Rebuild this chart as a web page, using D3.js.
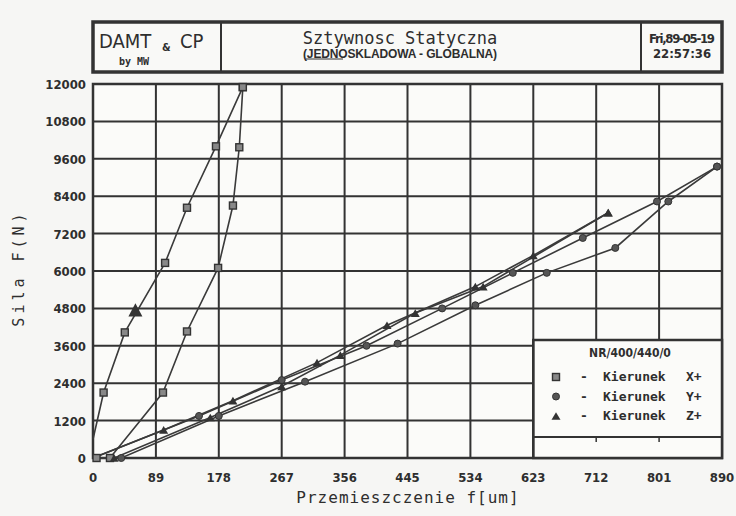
<!DOCTYPE html>
<html>
<head>
<meta charset="utf-8">
<script src="https://cdn.jsdelivr.net/npm/d3@7"></script>
<style>
  body { margin: 0; background: #f6f6f4; }
  svg { display: block; }
  .tick-label { font-family: "Liberation Sans Narrow", "DejaVu Sans Condensed", sans-serif; font-weight: bold; font-size: 13px; fill: #2e2e2e; }
  .mono { font-family: "DejaVu Sans Mono", monospace; fill: #2e2e2e; }
</style>
</head>
<body>
<div id="chart"></div>
<script>
// axis ticks
const xTicks = [0, 89, 178, 267, 356, 445, 534, 623, 712, 801, 890];
const yTicks = [0, 1200, 2400, 3600, 4800, 6000, 7200, 8400, 9600, 10800, 12000];

// curves: [displacement um, force N]
const xLoad   = [[5, 0], [24, 0], [99, 2100], [133, 4060], [177, 6100], [198, 8100], [207, 9970], [212, 11900]];
const xUnload = [[212, 11900], [174, 10000], [133, 8030], [102, 6260], [45, 4030], [15, 2100], [0, 600]];
const yLoad   = [[0, 0], [40, 0], [178, 1350], [300, 2450], [431, 3670], [541, 4900], [642, 5940], [739, 6740], [814, 8230], [883, 9350]];
const yUnload = [[883, 9350], [798, 8230], [693, 7060], [594, 5940], [494, 4800], [387, 3600], [267, 2500], [150, 1350], [0, 0]];
const zLoad   = [[0, 0], [30, 0], [166, 1300], [267, 2300], [350, 3300], [456, 4650], [552, 5500], [729, 7870]];
const zUnload = [[729, 7870], [623, 6500], [541, 5500], [416, 4260], [317, 3060], [198, 1840], [100, 900], [0, 0]];
const zStray  = [[60, 4750]];

const legendTitle = "NR/400/440/0";
const legendRows = [
  { sym: "square", label: "Kierunek", dir: "X+" },
  { sym: "circle", label: "Kierunek", dir: "Y+" },
  { sym: "triangle", label: "Kierunek", dir: "Z+" }
];

const W = 736, H = 516;
const ink = "#333";
const plot = { left: 93, right: 722, top: 84, bottom: 458 };

const svg = d3.select("#chart").append("svg")
  .attr("width", W).attr("height", H);

const x = d3.scaleLinear().domain([0, 890]).range([plot.left, plot.right]);
const y = d3.scaleLinear().domain([0, 12000]).range([plot.bottom, plot.top]);

// header box
const hdr = svg.append("g");
hdr.append("rect").attr("x", 93).attr("y", 22).attr("width", 629).attr("height", 50)
  .attr("fill", "#f9f9f7").attr("stroke", ink).attr("stroke-width", 3.5);
hdr.append("line").attr("x1", 221).attr("x2", 221).attr("y1", 22).attr("y2", 72)
  .attr("stroke", ink).attr("stroke-width", 2);
hdr.append("line").attr("x1", 641).attr("x2", 641).attr("y1", 22).attr("y2", 72)
  .attr("stroke", ink).attr("stroke-width", 2);

hdr.append("text").attr("x", 99).attr("y", 48)
  .style("font-family", "'DejaVu Sans Condensed', sans-serif").style("fill", "#2e2e2e")
  .style("font-size", "20px").text("DAMT");
hdr.append("text").attr("x", 162).attr("y", 51)
  .style("font-family", "'DejaVu Sans Condensed', sans-serif").style("fill", "#2e2e2e")
  .style("font-size", "11px").style("font-weight", "bold").text("&");
hdr.append("text").attr("x", 180).attr("y", 48)
  .style("font-family", "'DejaVu Sans Condensed', sans-serif").style("fill", "#2e2e2e")
  .style("font-size", "20px").text("CP");
hdr.append("text").attr("class", "mono").attr("x", 134).attr("y", 65)
  .attr("text-anchor", "middle").style("font-size", "10px").style("font-weight", "bold").text("by MW");

hdr.append("text").attr("class", "mono").attr("x", 400).attr("y", 44)
  .attr("text-anchor", "middle").style("font-size", "17px").text("Sztywnosc Statyczna");
hdr.append("text").attr("x", 400).attr("y", 58)
  .attr("text-anchor", "middle").attr("textLength", 194)
  .style("font-family", "'Liberation Sans Narrow', sans-serif").style("font-weight", "bold")
  .style("font-size", "12px").style("fill", "#2e2e2e")
  .text("(JEDNOSKLADOWA - GLOBALNA)");
hdr.append("line").attr("x1", 306).attr("x2", 343).attr("y1", 59).attr("y2", 59)
  .attr("stroke", ink).attr("stroke-width", 1.2);

hdr.append("text").attr("class", "tick-label").attr("x", 682).attr("y", 43)
  .attr("text-anchor", "middle").attr("textLength", 66).style("font-size", "13px").text("Fri,89-05-19");
hdr.append("text").attr("class", "tick-label").attr("x", 682).attr("y", 58)
  .attr("text-anchor", "middle").style("font-size", "13px").text("22:57:36");

// plot frame + grid
const grid = svg.append("g");
grid.append("rect").attr("x", plot.left).attr("y", plot.top)
  .attr("width", plot.right - plot.left).attr("height", plot.bottom - plot.top)
  .attr("fill", "#fbfbf9").attr("stroke", ink).attr("stroke-width", 2.5);

grid.selectAll(".vg").data(xTicks.slice(1, -1)).join("line")
  .attr("x1", d => x(d)).attr("x2", d => x(d))
  .attr("y1", plot.top).attr("y2", plot.bottom)
  .attr("stroke", ink).attr("stroke-width", 2);
grid.selectAll(".hg").data(yTicks.slice(1, -1)).join("line")
  .attr("x1", plot.left).attr("x2", plot.right)
  .attr("y1", d => y(d)).attr("y2", d => y(d))
  .attr("stroke", ink).attr("stroke-width", 2);

// tick labels
svg.selectAll(".xl").data(xTicks).join("text")
  .attr("class", "tick-label")
  .attr("x", d => x(d)).attr("y", 482)
  .attr("text-anchor", "middle").text(d => d);
svg.selectAll(".yl").data(yTicks).join("text")
  .attr("class", "tick-label")
  .attr("x", 86).attr("y", d => y(d) + 5)
  .attr("text-anchor", "end").text(d => d);

// axis titles
svg.append("text").attr("class", "mono")
  .attr("x", 408).attr("y", 503).attr("text-anchor", "middle")
  .style("font-size", "16px").style("letter-spacing", "1px").text("Przemieszczenie  f[um]");
svg.append("text").attr("class", "mono")
  .attr("transform", "translate(24,268) rotate(-90)")
  .attr("text-anchor", "middle").style("font-size", "15px").style("letter-spacing", "4px")
  .text("Sila  F(N)");

// curves
const line = d3.line().x(d => x(d[0])).y(d => y(d[1]));
const curves = [
  { pts: xLoad, sym: "square" }, { pts: xUnload, sym: "square", skipLast: true },
  { pts: yLoad, sym: "circle", skipFirst: true }, { pts: yUnload, sym: "circle", skipLast: true },
  { pts: zLoad, sym: "triangle", skipFirst: true }, { pts: zUnload, sym: "triangle", skipLast: true }
];

const lines = svg.append("g");
curves.forEach(c => {
  lines.append("path").attr("d", line(c.pts))
    .attr("fill", "none").attr("stroke", "#3a3a3a").attr("stroke-width", 1.6);
});

function marker(g, sym, cx, cy, s) {
  if (sym === "square") {
    g.append("rect").attr("x", cx - s / 2).attr("y", cy - s / 2).attr("width", s).attr("height", s)
      .attr("fill", "#888").attr("stroke", "#333").attr("stroke-width", 1.4);
  } else if (sym === "circle") {
    g.append("circle").attr("cx", cx).attr("cy", cy).attr("r", s / 2)
      .attr("fill", "#555").attr("stroke", "#333").attr("stroke-width", 1);
  } else {
    const h = s * 1.1;
    g.append("path")
      .attr("d", `M${cx},${cy - h / 2}L${cx + s / 2 + 1},${cy + h / 2}L${cx - s / 2 - 1},${cy + h / 2}Z`)
      .attr("fill", "#333");
  }
}

const marks = svg.append("g");
curves.forEach(c => {
  c.pts.forEach((p, i) => {
    if (c.skipFirst && i === 0) return;
    if (c.skipLast && i === c.pts.length - 1) return;
    marker(marks, c.sym, x(p[0]), y(p[1]), 7);
  });
});
zStray.forEach(p => marker(marks, "triangle", x(p[0]), y(p[1]), 12));

// legend
const lg = svg.append("g");
const lx = x(623), ly = 340, lb = 437;
lg.append("rect").attr("x", lx).attr("y", ly).attr("width", plot.right - lx).attr("height", plot.bottom - ly)
  .attr("fill", "#fbfbf9").attr("stroke", ink).attr("stroke-width", 2);
lg.append("line").attr("x1", lx).attr("x2", plot.right).attr("y1", lb).attr("y2", lb)
  .attr("stroke", ink).attr("stroke-width", 2);
lg.selectAll(".lt").data([712, 801]).join("line")
  .attr("x1", d => x(d)).attr("x2", d => x(d)).attr("y1", lb).attr("y2", lb + 5)
  .attr("stroke", ink).attr("stroke-width", 1.5);
lg.append("rect").attr("x", lx).attr("y", ly).attr("width", plot.right - lx).attr("height", plot.bottom - ly)
  .attr("fill", "none").attr("stroke", ink).attr("stroke-width", 2.5);

lg.append("text").attr("x", 630).attr("y", 357).attr("text-anchor", "middle")
  .attr("class", "tick-label").style("font-size", "12px").text(legendTitle);
legendRows.forEach((r, i) => {
  const ry = 381 + i * 19.5;
  marker(lg, r.sym, 556, ry - 4, 7);
  lg.append("text").attr("class", "mono").attr("x", 580).attr("y", ry)
    .style("font-size", "13px").style("font-weight", "bold").text("-");
  lg.append("text").attr("class", "mono").attr("x", 603).attr("y", ry)
    .style("font-size", "13px").style("font-weight", "bold").text(r.label);
  lg.append("text").attr("class", "mono").attr("x", 686).attr("y", ry)
    .style("font-size", "13px").style("font-weight", "bold").text(r.dir);
});
</script>
</body>
</html>
